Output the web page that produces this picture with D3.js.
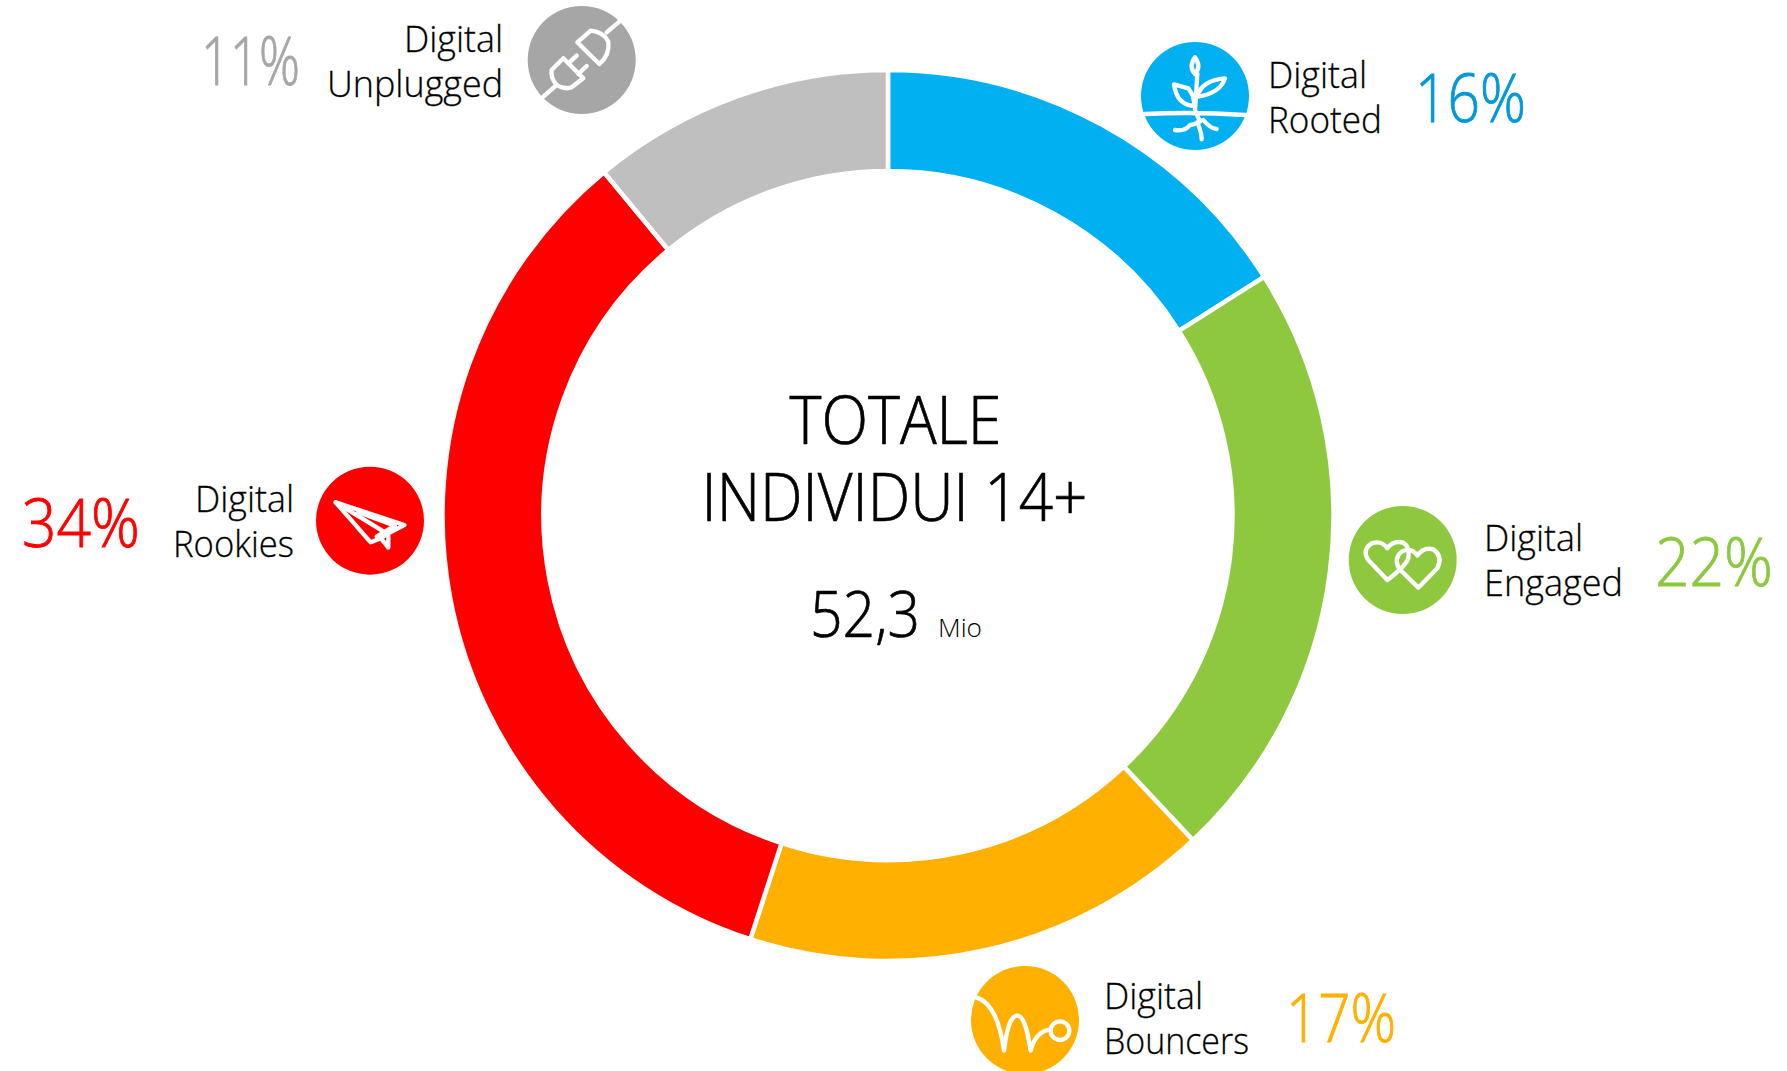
<!DOCTYPE html>
<html><head><meta charset="utf-8"><title>Totale individui 14+</title>
<script src="https://cdnjs.cloudflare.com/ajax/libs/d3/7.8.5/d3.min.js"></script>
<style>html,body{margin:0;padding:0;background:#fff;overflow:hidden}svg{display:block}text{font-family:"Open Sans",sans-serif;font-weight:300}</style>
</head><body><svg id="c" width="1787" height="1071"></svg>
<script>
const categories=["Digital Rooted","Digital Engaged","Digital Bouncers","Digital Rookies","Digital Unplugged"];
const values=[16,22,17,34,11];
const sliceColors=["#00B0F0","#8DC83F","#FFB000","#FF0000","#BFBFBF"];
const iconColors=["#00B0F0","#8DC83F","#FFB000","#FF0000","#A6A6A6"];
const pctColors=["#0098DA","#8DC83F","#FFB000","#FF0000","#A6A6A6"];
const titleLines=["TOTALE","INDIVIDUI 14+"];
const totalValue="52,3", totalUnit="Mio";

const svg=d3.select("#c");
const cx=888,cy=515.5,R=445.5,r=344.5;
const pie=d3.pie().sort(null).value(d=>d);
const arc=d3.arc().innerRadius(r).outerRadius(R);
svg.append("g").attr("transform",`translate(${cx},${cy})`).selectAll("path").data(pie(values)).join("path")
  .attr("d",arc).attr("fill",(d,i)=>sliceColors[i]).attr("stroke","#fff").attr("stroke-width",4.5);

function T(s,x,y,size,anchor,fill,len,sw){
  const t=svg.append("text").attr("x",x).attr("y",y).attr("font-size",size).attr("text-anchor",anchor).attr("fill",fill).text(s);
  if(len) t.attr("textLength",len).attr("lengthAdjust","spacingAndGlyphs");
  if(sw) t.attr("stroke",fill).attr("stroke-width",sw);
  return t;
}
T(titleLines[0],895.5,444,66,"middle","#000",212,.7);
T(titleLines[1],894.5,521,66,"middle","#000",386,.7);
T(totalValue,865,637,64,"middle","#000",110,.7);
T(totalUnit,960,637,25.5,"middle","#000",44,0);

const layout=[
 {ic:[1195,96],lx:1268,a:"start",ly:[88,133],lw:[99,114],px:1415,py:122,pw:111},
 {ic:[1402.7,560],lx:1484,a:"start",ly:[551,596],lw:[99,139],px:1655,py:586,pw:118},
 {ic:[1025,1020],lx:1104,a:"start",ly:[1009,1054],lw:[99,145],px:1286,py:1042,pw:110},
 {ic:[370,520.7],lx:294,a:"end",ly:[512,557],lw:[99,121],px:22,py:547,pw:118},
 {ic:[581.7,60],lx:503,a:"end",ly:[52,97],lw:[99,176],px:201,py:85,pw:99}
];
const icons=[
 g=>{g.attr("transform","translate(1120,30) scale(.3333)");
   ["M75 252Q225 245 375 255","M232 130Q228 200 225 240Q235 265 240 275","M225 82Q205 110 225 132Q245 110 225 82Z",
    "M232 200Q245 150 315 145Q300 190 232 200Z","M162 163L205 175Q225 200 222 228Q170 225 162 163Z",
    "M240 270Q225 285 210 285Q195 305 165 300","M235 285Q245 310 245 328","M250 270Q270 295 290 297"].forEach(p=>g.append("path").attr("d",p));},
 g=>{g.attr("transform","translate(1330,490) scale(.3333)");
   ["M172 270L115 210Q95 180 125 160Q155 150 172 175Q190 150 220 158Q240 170 235 205Q225 230 172 270Z",
    "M265 293L208 237Q190 205 215 185Q245 170 262 197Q280 170 310 178Q340 200 322 235Z"].forEach(p=>g.append("path").attr("d",p));},
 g=>{g.attr("transform","translate(960,950) scale(.3333)");
   ["M48 142C95 155 120 215 132 302C140 240 150 197 172 197C195 197 205 260 212 302C222 265 240 245 265 240"].forEach(p=>g.append("path").attr("d",p));
   g.append("circle").attr("cx",300).attr("cy",242).attr("r",28);},
 g=>{g.attr("transform","translate(305,455) scale(.3333)");
   ["M92 142L298 210L250 235L250 278L228 250L197 262Z","M92 142L240 232","M160 172L270 212L215 245","M228 250L250 235"].forEach(p=>g.append("path").attr("d",p));},
 g=>{g.attr("transform","translate(500,0) scale(.3333)");
   ["M130 290L170 255","M190 175L155 210Q150 230 170 255Q195 270 215 262L250 235Z","M205 190L230 167","M235 222L260 198",
    "M232 127L298 192Q330 165 325 125Q310 95 272 92Z","M320 97L358 65"].forEach(p=>g.append("path").attr("d",p));}
];
categories.forEach((c,i)=>{
  const L=layout[i], w=c.split(" ");
  svg.append("circle").attr("cx",L.ic[0]).attr("cy",L.ic[1]).attr("r",54).attr("fill",iconColors[i]);
  const g=svg.append("g").attr("fill","none").attr("stroke","#fff").attr("stroke-width",13).attr("stroke-linecap","round").attr("stroke-linejoin","round");
  icons[i](g);
  T(w[0],L.lx,L.ly[0],36,L.a,"#000",L.lw[0],.3);
  T(w[1],L.lx,L.ly[1],36,L.a,"#000",L.lw[1],.3);
  T(values[i]+"%",L.px,L.py,67,"start",pctColors[i],L.pw,.9);
});
</script></body></html>
